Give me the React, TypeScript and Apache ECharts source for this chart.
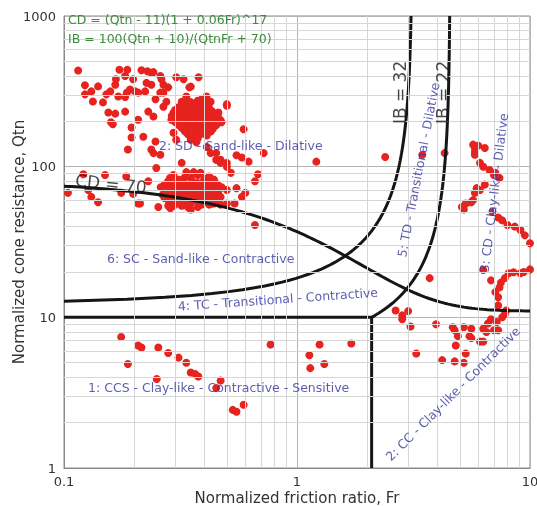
import React, { useEffect, useRef } from "react";
import * as echarts from "echarts";

// ---- Data (Fr, Qtn) ----
const sdScatter: [number, number][] = [
  [0.115, 435], [0.123, 347], [0.123, 302], [0.133, 271], [0.14, 341], [0.131, 316], [0.147, 267],
  [0.155, 229], [0.166, 225], [0.159, 197], [0.162, 191], [0.152, 302], [0.158, 316], [0.166, 350],
  [0.167, 380], [0.173, 440], [0.187, 440], [0.183, 400], [0.171, 292], [0.183, 290], [0.186, 310],
  [0.192, 325], [0.202, 316], [0.198, 380], [0.215, 436], [0.228, 430], [0.242, 424], [0.208, 310],
  [0.223, 316], [0.226, 360], [0.237, 420], [0.259, 400], [0.237, 350], [0.247, 280], [0.183, 232],
  [0.208, 205], [0.23, 232], [0.242, 215], [0.195, 182], [0.219, 158], [0.195, 156], [0.188, 130],
  [0.247, 147], [0.237, 130], [0.267, 350], [0.267, 310], [0.259, 310], [0.275, 270], [0.267, 250],
  [0.262, 380], [0.28, 336], [0.303, 392], [0.326, 380], [0.345, 336], [0.35, 340], [0.378, 392],
  [0.335, 292], [0.32, 270], [0.39, 280], [0.409, 292], [0.426, 270], [0.417, 250], [0.5, 260],
  [0.5, 254], [0.46, 229], [0.474, 197], [0.426, 171], [0.289, 205], [0.295, 168], [0.303, 151],
  [0.35, 151], [0.37, 145], [0.41, 135], [0.45, 123], [0.47, 111], [0.5, 106], [0.59, 177],
];

const sdBlob: [number, number][] = [
  [0.33, 272], [0.35, 268], [0.375, 274], [0.4, 266],
  [0.32, 259], [0.343, 262], [0.365, 257], [0.388, 260], [0.41, 256],
  [0.31, 248], [0.33, 244], [0.355, 250], [0.375, 246], [0.4, 249], [0.42, 243],
  [0.3, 238], [0.32, 235], [0.345, 239], [0.365, 234], [0.388, 237], [0.41, 236], [0.432, 233],
  [0.295, 228], [0.31, 224], [0.335, 227], [0.355, 223], [0.375, 229], [0.4, 225], [0.42, 227], [0.445, 222],
  [0.29, 217], [0.303, 214], [0.322, 218], [0.345, 213], [0.365, 216], [0.388, 219], [0.41, 214], [0.432, 216], [0.458, 213],
  [0.295, 206], [0.315, 209], [0.33, 204], [0.355, 207], [0.37, 203], [0.395, 208], [0.42, 205], [0.445, 207], [0.47, 203],
  [0.3, 198], [0.322, 195], [0.342, 199], [0.363, 196], [0.385, 198], [0.408, 195], [0.432, 197], [0.46, 196],
  [0.31, 189], [0.335, 186], [0.35, 190], [0.375, 187], [0.4, 189], [0.42, 185], [0.45, 188],
  [0.32, 181], [0.342, 178], [0.363, 182], [0.387, 179], [0.41, 181], [0.435, 178],
  [0.33, 172], [0.355, 169], [0.375, 173], [0.4, 170], [0.42, 172],
  [0.34, 164], [0.363, 162], [0.388, 165], [0.41, 161],
  [0.35, 157], [0.375, 154],
];

const scScatter: [number, number][] = [
  [0.104, 67], [0.121, 89], [0.127, 70], [0.131, 63], [0.14, 58], [0.15, 88], [0.176, 67], [0.185, 86],
  [0.198, 66], [0.212, 57], [0.23, 80], [0.254, 54], [0.286, 53], [0.35, 52], [0.47, 56], [0.54, 57],
  [0.242, 123], [0.259, 120], [0.249, 98], [0.32, 106], [0.335, 92], [0.36, 92], [0.385, 91],
  [0.426, 123], [0.45, 111], [0.47, 106], [0.5, 100], [0.52, 91], [0.55, 119], [0.58, 115], [0.62, 108],
  [0.68, 89], [0.66, 80], [0.55, 72], [0.6, 67], [0.58, 63], [0.208, 57], [0.28, 55], [0.32, 55],
  [0.34, 54], [0.38, 57], [0.43, 57], [0.5, 57], [0.66, 41], [1.21, 108], [0.72, 123],
];

const scBlob: [number, number][] = [
  [0.295, 88], [0.33, 85], [0.375, 88], [0.42, 86],
  [0.285, 84], [0.31, 82], [0.35, 84], [0.4, 83], [0.44, 82],
  [0.28, 80], [0.295, 78], [0.315, 81], [0.33, 77], [0.355, 80], [0.375, 78], [0.4, 81], [0.42, 79], [0.45, 77],
  [0.27, 76], [0.288, 75], [0.305, 77], [0.325, 74], [0.345, 76], [0.365, 75], [0.385, 77], [0.41, 74], [0.432, 76], [0.46, 75],
  [0.26, 73], [0.28, 71], [0.295, 74], [0.315, 72], [0.335, 70], [0.355, 73], [0.375, 71], [0.395, 74], [0.42, 72], [0.445, 70], [0.475, 73],
  [0.27, 69], [0.29, 70], [0.305, 68], [0.325, 69], [0.345, 70], [0.365, 68], [0.385, 69], [0.41, 70], [0.432, 68], [0.46, 69], [0.5, 70],
  [0.265, 65], [0.28, 67], [0.3, 66], [0.315, 64], [0.335, 67], [0.355, 65], [0.375, 68], [0.4, 65], [0.42, 67], [0.445, 64],
  [0.27, 62], [0.288, 63], [0.31, 62], [0.325, 63], [0.348, 62], [0.368, 63], [0.39, 62], [0.41, 63], [0.435, 62], [0.47, 63],
  [0.28, 60], [0.295, 61], [0.32, 59], [0.335, 61], [0.36, 60], [0.38, 58], [0.4, 61], [0.425, 59], [0.45, 60],
  [0.285, 57], [0.31, 57], [0.35, 57], [0.39, 56], [0.44, 57],
  [0.295, 55], [0.33, 56], [0.375, 54], [0.42, 56],
];

const ccsScatter: [number, number][] = [
  [0.176, 7.4], [0.188, 4.9], [0.208, 6.5], [0.215, 6.3], [0.254, 6.3], [0.28, 5.8], [0.31, 5.4],
  [0.335, 5.0], [0.35, 4.3], [0.366, 4.2], [0.377, 4.05], [0.25, 3.9], [0.45, 3.4], [0.47, 3.8],
  [0.53, 2.43], [0.55, 2.36], [0.59, 2.63], [0.77, 6.6], [1.13, 5.6], [1.14, 4.6], [1.25, 6.6],
  [1.31, 4.9], [1.71, 6.7],
];

const clayScatter: [number, number][] = [
  [2.39, 116], [3.45, 120], [4.3, 123], [5.8, 133], [6.4, 133], [6.0, 138], [5.7, 140], [5.8, 125],
  [5.8, 120], [6.1, 106], [6.3, 100], [6.7, 95], [7.1, 91], [7.4, 84], [7.0, 88], [6.4, 76], [6.1, 70],
  [5.8, 67], [5.7, 60], [5.6, 58], [5.3, 57], [5.1, 54], [5.2, 52], [5.9, 72], [6.9, 50], [7.3, 46],
  [7.6, 44], [8.0, 41], [8.6, 40], [9.1, 38], [9.5, 35], [10, 31],
  [3.71, 18.2], [7.1, 14.7], [6.3, 20.6], [6.8, 17.6], [7.3, 13.6], [7.3, 12], [7.4, 15.8], [7.5, 17],
  [7.8, 18.2], [8.1, 19.6], [8.5, 19.9], [9.1, 19.6], [9.4, 20], [10, 20.8], [7.9, 11.1], [7.8, 10.5],
  [7.6, 10], [7.2, 9.3], [6.8, 9.7], [6.6, 9.1], [6.3, 8.4], [6.5, 8.0], [7.0, 8.2], [7.3, 8.2],
  [6.1, 6.9], [6.3, 6.9], [5.5, 7.5], [5.6, 7.3], [4.9, 7.5], [5.2, 8.6], [5.6, 8.4], [4.66, 8.6],
  [4.75, 8.2], [3.95, 9.0], [2.65, 11.1], [2.83, 10.3], [3.0, 11], [2.83, 9.7], [3.07, 8.7], [4.8, 6.5],
  [5.3, 5.75], [5.2, 5.0], [4.75, 5.1], [4.2, 5.2], [3.25, 5.75],
];

// Boundary constants
const cdValues = [70];
const ibValues = [32, 22];

// Axis ticks
const xMinorTicks = [0.2, 0.3, 0.4, 0.5, 0.6, 0.7, 0.8, 0.9, 2, 3, 4, 5, 6, 7, 8, 9];
const yMinorTicks = [2, 3, 4, 5, 6, 7, 8, 9, 20, 30, 40, 50, 60, 70, 80, 90, 200, 300, 400, 500, 600, 700, 800, 900];

// Annotations: [text, Fr, Qtn, rotate, kind]
const zoneLabels: [string, number, number, number, string][] = [
  ["2: SD - Sand-like - Dilative", 0.574, 138, 0, "zone"],
  ["6: SC - Sand-like - Contractive", 0.386, 24.7, 0, "zone"],
  ["4: TC - Transitional - Contractive", 0.828, 13.2, 4, "zone"],
  ["1: CCS - Clay-like - Contractive - Sensitive", 0.461, 3.41, 0, "zone"],
  ["5: TD - Transitional - Dilative", 3.32, 95.5, 79, "zone"],
  ["3: CD - Clay-like - Dilative", 7.0, 67, 83, "zone"],
  ["2: CC - Clay-like - Contractive", 4.66, 3.11, 45, "zone"],
  ["CD = 70", 0.159, 77, -6, "curve"],
  ["IB = 32", 2.78, 311, 90, "curve"],
  ["IB = 22", 4.22, 311, 90, "curve"],
];

const formulaLines = ["CD = (Qtn - 11)(1 + 0.06Fr)^17", "IB = 100(Qtn + 10)/(QtnFr + 70)"];

// ---- Curve helpers (from the formulas shown on the chart) ----
function cdCurve(cd: number): [number, number][] {
  const pts: [number, number][] = [];
  for (let i = 0; i <= 120; i++) {
    const fr = Math.pow(10, -1 + (2 * i) / 120);
    pts.push([fr, 11 + cd / Math.pow(1 + 0.06 * fr, 17)]);
  }
  return pts;
}
function ibFr(ib: number, q: number) {
  return (100 * (q + 10) / ib - 70) / q;
}
function ibCurve(ib: number, qStart: number): [number, number][] {
  const pts: [number, number][] = [];
  const l0 = Math.log10(qStart);
  for (let i = 0; i <= 150; i++) {
    const q = Math.pow(10, l0 + ((3 - l0) * i) / 150);
    pts.push([ibFr(ib, q), q]);
  }
  return pts;
}

export default function App() {
  const ref = useRef<HTMLDivElement>(null);
  useEffect(() => {
    if (!ref.current) return;
    const chart = echarts.init(ref.current, undefined, { renderer: "svg" });
    const font = "DejaVu Sans";
    const ib32Start = (70 * ibValues[0] - 1000) / (100 - ibValues[0] * 0.1);
    const cornerFr = ibFr(ibValues[1], 10);

    const points = [...sdScatter, ...sdBlob, ...scScatter, ...scBlob, ...ccsScatter, ...clayScatter];
    const lineStyle = { color: "#161616", width: 3 };

    const gridLines: any[] = [];
    xMinorTicks.forEach((x) => gridLines.push([{ coord: [x, 1] }, { coord: [x, 1000] }]));
    yMinorTicks.forEach((y) => gridLines.push([{ coord: [0.1, y] }, { coord: [10, y] }]));

    const option: any = {
      animation: false,
      textStyle: { fontFamily: font },
      grid: {
        left: 64, right: 7, top: 16, bottom: 38, show: true, borderColor: "#8a8a8a", borderWidth: 1,
        containLabel: false, outerBoundsMode: "none",
      },
      xAxis: {
        type: "log", logBase: 10, min: 0.1, max: 10,
        name: "Normalized friction ratio, Fr", nameLocation: "middle", nameGap: 22, nameMoveOverlap: false,
        nameTextStyle: { fontSize: 15, color: "#333", fontFamily: font },
        axisLine: { lineStyle: { color: "#8a8a8a" } },
        axisTick: { show: false },
        axisLabel: { fontSize: 13, color: "#333", margin: 7, fontFamily: font, formatter: (v: number) => String(v) },
        splitLine: { show: true, lineStyle: { color: "#b4b4b4", width: 1 } },
      },
      yAxis: {
        type: "log", logBase: 10, min: 1, max: 1000,
        name: "Normalized cone resistance, Qtn", nameLocation: "middle", nameGap: 38, nameMoveOverlap: false,
        nameTextStyle: { fontSize: 15, color: "#333", fontFamily: font },
        axisLine: { lineStyle: { color: "#8a8a8a" } },
        axisTick: { show: false },
        axisLabel: { fontSize: 13, color: "#333", margin: 8, fontFamily: font, formatter: (v: number) => String(v) },
        splitLine: { show: true, lineStyle: { color: "#b4b4b4", width: 1 } },
      },
      series: [
        {
          type: "line", data: [], silent: true, z: 1,
          markLine: {
            silent: true, symbol: "none", animation: false, label: { show: false },
            lineStyle: { color: "#d6d6d6", width: 1, type: "solid" },
            data: gridLines,
          },
        },
        {
          type: "scatter", data: points, symbolSize: 8, z: 3,
          itemStyle: { color: "#e6231f", opacity: 1 },
        },
        ...cdValues.map((cd) => ({
          type: "line", data: cdCurve(cd), showSymbol: false, symbol: "none", lineStyle, z: 4, silent: true,
        })),
        {
          type: "line", data: ibCurve(ibValues[0], ib32Start), showSymbol: false, symbol: "none", lineStyle, z: 4, silent: true,
        },
        {
          type: "line",
          data: [[0.1, 10], [cornerFr, 10], ...ibCurve(ibValues[1], 10).slice(1)],
          showSymbol: false, symbol: "none", lineStyle, z: 4, silent: true,
        },
        {
          type: "line", data: [[cornerFr, 1], [cornerFr, 10]], showSymbol: false, symbol: "none", lineStyle, z: 4, silent: true,
        },
        {
          type: "scatter", symbolSize: 0, z: 6, silent: true,
          data: zoneLabels.map(([text, fr, q, rot, kind]) => ({
            value: [fr, q],
            label: {
              show: true, position: "inside", formatter: text, rotate: rot,
              align: "center", verticalAlign: "middle",
              color: kind === "zone" ? "#34349c" : "#1a1a1a",
              fontSize: kind === "zone" ? 12.5 : 17, fontFamily: font,
            },
          })),
        },
      ],
      graphic: formulaLines.map((t, i) => ({
        type: "text", left: 68, top: 13 + i * 19, z: 10,
        style: { text: t, fill: "#3d8c3d", fontSize: 12.5, fontFamily: font },
      })),
    };
    chart.setOption(option);
    return () => chart.dispose();
  }, []);
  return <div ref={ref} style={{ position: "fixed", left: 0, top: 0, width: 537, height: 506 }} />;
}
